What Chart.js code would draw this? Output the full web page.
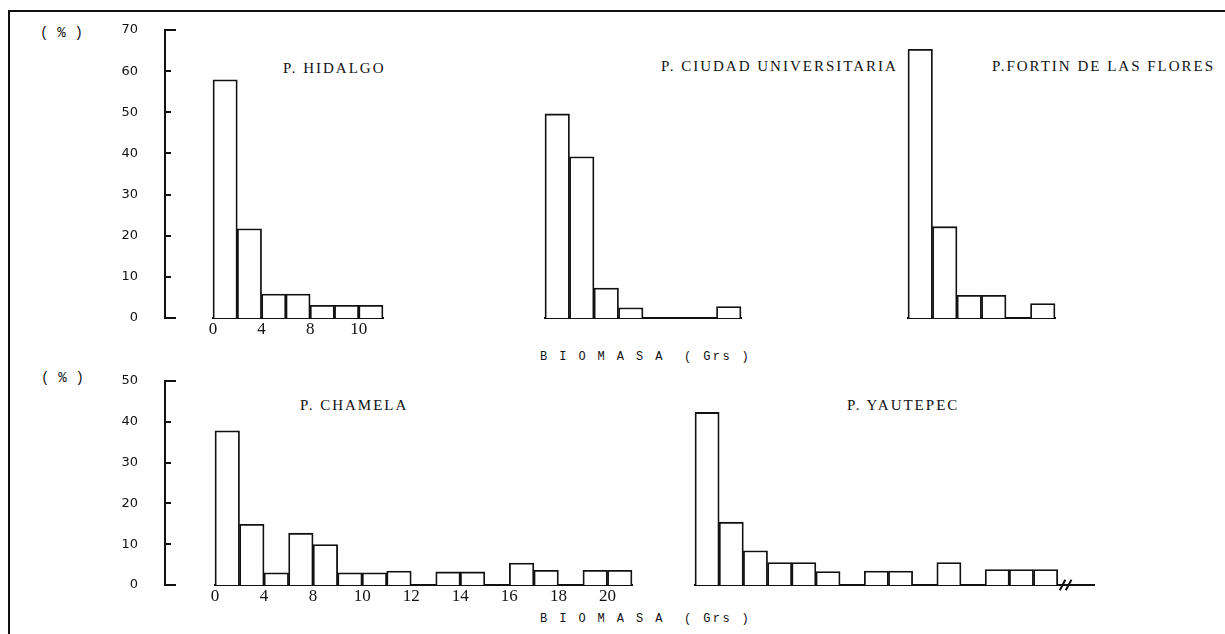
<!DOCTYPE html>
<html>
<head>
<meta charset="utf-8">
<script src="https://cdn.jsdelivr.net/npm/chart.js@4.4.1/dist/chart.umd.min.js"></script>
<style>
  html, body { margin:0; padding:0; background:#fff; width:1225px; height:634px; overflow:hidden; }
  #stage { position:relative; width:1225px; height:634px; }
  .frame { position:absolute; left:8px; top:10px; width:1230px; height:640px; border-left:2px solid #111; border-top:2px solid #111; }
  canvas { position:absolute; }
  .txt { position:absolute; white-space:pre; color:#111; line-height:1; transform:translateY(-50%); }
  .title { font-family:"Liberation Serif", serif; font-size:15px; letter-spacing:2px; }
  .pct { font-family:"Liberation Mono", monospace; font-size:14px; letter-spacing:0.2px; }
  .bio { font-family:"Liberation Mono", monospace; font-size:12px; letter-spacing:2.4px; }
</style>
</head>
<body>
<div id="stage">
  <div class="frame"></div>

  <div class="txt pct" style="left:40px; top:33px;">( % )</div>
  <div class="txt pct" style="left:41px; top:378px;">( % )</div>

  <div class="txt title" style="left:283px; top:68px;">P. HIDALGO</div>
  <div class="txt title" style="left:661px; top:66px;">P. CIUDAD UNIVERSITARIA</div>
  <div class="txt title" style="left:992px; top:66px;">P.FORTIN DE LAS FLORES</div>
  <div class="txt title" style="left:300px; top:405px;">P. CHAMELA</div>
  <div class="txt title" style="left:847px; top:405px;">P. YAUTEPEC</div>

  <div class="txt bio" style="left:540px; top:357px;">B I O M A S A  ( Grs )</div>
  <div class="txt bio" style="left:540px; top:619px;">B I O M A S A  ( Grs )</div>

  <canvas id="axTop" width="176" height="322" style="left:0px; top:20px;"></canvas>
  <canvas id="hidalgo" width="190" height="322" style="left:203px; top:20px;"></canvas>
  <canvas id="ciudad" width="216" height="322" style="left:535px; top:20px;"></canvas>
  <canvas id="fortin" width="167" height="322" style="left:898px; top:20px;"></canvas>

  <canvas id="axBottom" width="176" height="238" style="left:0px; top:371px;"></canvas>
  <canvas id="chamela" width="437" height="238" style="left:205px; top:371px;"></canvas>
  <canvas id="yautepec" width="419" height="238" style="left:685px; top:371px;"></canvas>
</div>

<script>
// ---- Data (percent of individuals per biomass class) ----
const hidalgoValues  = [57.9, 21.7, 5.8, 5.8, 3.1, 3.1, 3.1];
const ciudadValues   = [49.6, 39.2, 7.3, 2.5, 0, 0, 0, 2.8];
const fortinValues   = [65.3, 22.2, 5.5, 5.5, 0, 3.5];
const chamelaValues  = [37.8, 14.9, 3.0, 12.7, 9.9, 3.0, 3.0, 3.4, 0, 3.2, 3.2, 0, 5.4, 3.6, 0, 3.6, 3.6];
const yautepecValues = [42.3, 15.4, 8.4, 5.5, 5.5, 3.3, 0, 3.4, 3.4, 0, 5.5, 0, 3.8, 3.8, 3.8];

// x tick labels (Grs) placed at class boundaries (class index)
const hidalgoTickEdges  = [0, 2, 4, 6];
const hidalgoTickLabels = ['0', '4', '8', '10'];
const chamelaTickEdges  = [0, 2, 4, 6, 8, 10, 12, 14, 16];
const chamelaTickLabels = ['0', '4', '8', '10', '12', '14', '16', '18', '20'];

// y axis ranges (%)
const topRowMax = 70;
const bottomRowMax = 50;
const percentStep = 10;

// axis break marks on Yautepec baseline (class index units)
const yautepecBreakMarks = [15.2, 15.45];
const yautepecAxisEnd = 16.5;

const INK = '#111';

function histChart(id, values, edges, labels, yMax, xMax, extra) {
  const data = values.map((v, i) => ({ x: i + 0.5, y: v }));
  const datasets = [{
    type: 'bar',
    data,
    backgroundColor: '#fff',
    borderColor: INK,
    borderWidth: 1.8,
    borderSkipped: 'start',
    barPercentage: 1,
    categoryPercentage: 1,
    clip: false
  }].concat(extra || []);
  const tickEdges = edges.length ? edges : [0, xMax];
  return new Chart(document.getElementById(id), {
    type: 'bar',
    data: { datasets },
    options: {
      responsive: false,
      animation: false,
      events: [],
      layout: { padding: { top: 10, left: 10, right: 10, bottom: 0 } },
      plugins: { legend: { display: false }, tooltip: { enabled: false } },
      scales: {
        x: {
          type: 'linear', min: 0, max: xMax, offset: false, z: 1,
          grid: { display: false, drawTicks: false, offset: false },
          border: { display: true, color: INK, width: 2 },
          ticks: {
            display: labels.length > 0, autoSkip: false, maxRotation: 0, minRotation: 0,
            padding: 1, color: INK,
            font: { family: 'Liberation Serif', size: 17 },
            callback: (v, i) => (labels[i] !== undefined ? labels[i] : '')
          },
          afterBuildTicks: (s) => { s.ticks = tickEdges.map(v => ({ value: v })); },
          afterFit: (s) => { s.height = 24; }
        },
        y: { type: 'linear', display: false, min: 0, max: yMax }
      }
    }
  });
}

// inward tick marks: full length at the ends of the axis, short elsewhere
function tickInk(ctx, yMax) {
  const area = ctx.chart.chartArea;
  if (!area) return INK;
  const v = ctx.tick ? ctx.tick.value : null;
  if (v === 0 || v === yMax) return INK;
  const g = ctx.chart.ctx.createLinearGradient(area.left, 0, area.right, 0);
  g.addColorStop(0, INK);
  g.addColorStop(0.55, INK);
  g.addColorStop(0.55, 'rgba(0,0,0,0)');
  g.addColorStop(1, 'rgba(0,0,0,0)');
  return g;
}

function axisChart(id, yMax) {
  return new Chart(document.getElementById(id), {
    type: 'bar',
    data: { datasets: [] },
    options: {
      responsive: false,
      animation: false,
      events: [],
      layout: { padding: { top: 10, left: 0, right: 0, bottom: 0 } },
      plugins: { legend: { display: false }, tooltip: { enabled: false } },
      scales: {
        x: {
          type: 'linear', min: 0, max: 1, display: true,
          grid: { display: false }, border: { display: false }, ticks: { display: false },
          afterFit: (s) => { s.height = 24; }
        },
        y: {
          type: 'linear', position: 'left', min: 0, max: yMax,
          ticks: { stepSize: percentStep, padding: 2, color: INK, font: { family: 'DejaVu Sans', size: 13 } },
          grid: {
            display: true, drawOnChartArea: true, drawTicks: true, tickLength: 25,
            tickColor: 'rgba(0,0,0,0)', color: (ctx) => tickInk(ctx, yMax), lineWidth: 2
          },
          border: { display: true, color: INK, width: 2 },
          afterFit: (s) => { s.width = 165; }
        }
      }
    }
  });
}

axisChart('axTop', topRowMax);
axisChart('axBottom', bottomRowMax);

histChart('hidalgo', hidalgoValues, hidalgoTickEdges, hidalgoTickLabels, topRowMax, hidalgoValues.length);
histChart('ciudad', ciudadValues, [], [], topRowMax, ciudadValues.length);
histChart('fortin', fortinValues, [], [], topRowMax, fortinValues.length);
histChart('chamela', chamelaValues, chamelaTickEdges, chamelaTickLabels, bottomRowMax, chamelaValues.length);
histChart('yautepec', yautepecValues, [], [], bottomRowMax, yautepecAxisEnd, [{
  type: 'scatter',
  data: yautepecBreakMarks.map(x => ({ x, y: 0 })),
  pointStyle: 'line',
  rotation: -62,
  radius: 6,
  borderColor: INK,
  borderWidth: 2,
  backgroundColor: INK,
  clip: false
}]);
</script>
</body>
</html>
